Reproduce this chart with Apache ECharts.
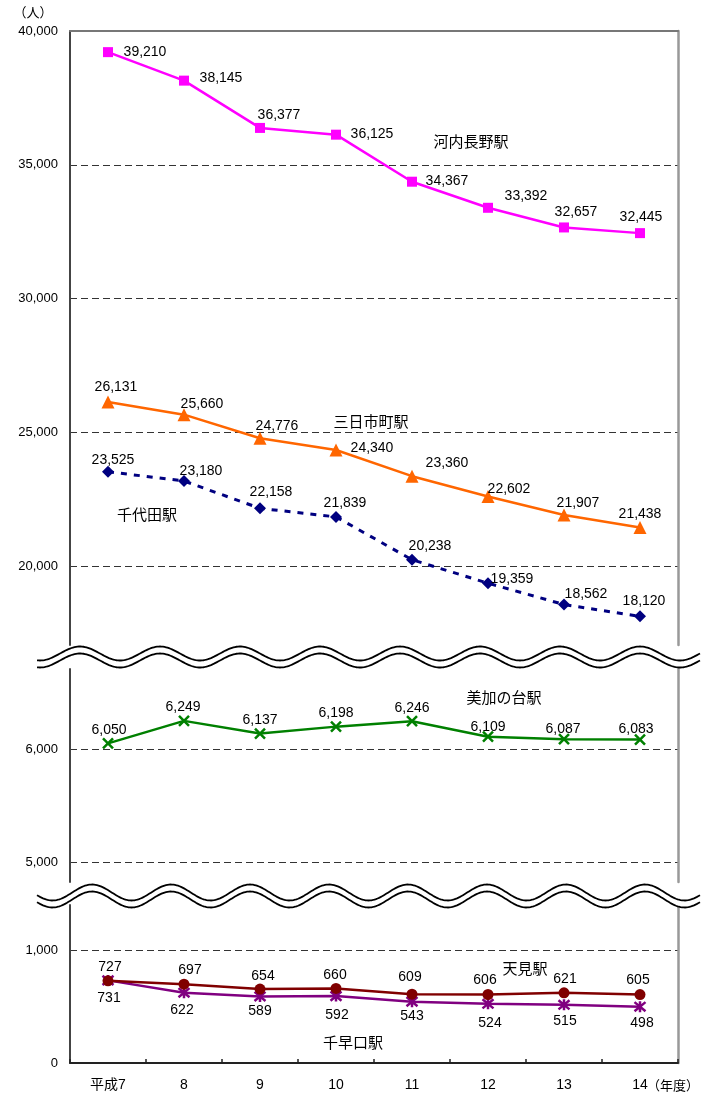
<!DOCTYPE html>
<html>
<head>
<meta charset="utf-8">
<script src="https://cdn.jsdelivr.net/npm/echarts@6/dist/echarts.min.js"></script>
<style>
html,body{margin:0;padding:0;background:#fff;}
#main{width:711px;height:1095px;}
</style>
</head>
<body>
<div id="main"></div>
<script>
// ---------- data ----------
const years = ['平成7', '8', '9', '10', '11', '12', '13', '14'];
const yearUnit = '（年度）';
const unitLabel = '（人）';

const kawachinagano = [39210, 38145, 36377, 36125, 34367, 33392, 32657, 32445];
const mikkaichicho  = [26131, 25660, 24776, 24340, 23360, 22602, 21907, 21438];
const chiyoda       = [23525, 23180, 22158, 21839, 20238, 19359, 18562, 18120];
const mikanodai     = [6050, 6249, 6137, 6198, 6246, 6109, 6087, 6083];
const amami         = [727, 697, 654, 660, 609, 606, 621, 605];
const chihayaguchi  = [731, 622, 589, 592, 543, 524, 515, 498];

const ticksUpper  = [20000, 25000, 30000, 35000, 40000];
const ticksMiddle = [5000, 6000];
const ticksLower  = [0, 1000];

// ---------- styles / layout (not data) ----------
const NUM_FONT = "'Liberation Sans', Arial, 'Noto Sans CJK JP', sans-serif";
const JP_FONT = "'Noto Sans CJK JP', 'Liberation Sans', sans-serif";

const offKawachi = [[37,0],[37,-2],[19,-13],[36,-1],[35,-1],[38,-12],[12,-15],[1,-16]];
const offMikka   = [[8,-15],[18,-11],[17,-12],[36,-2],[35,-13],[21,-7],[14,-12],[0,-13]];
const offChiyoda = [[5,-12],[17,-10],[11,-16],[9,-14],[18,-14],[24,-4],[22,-10],[4,-15]];
const offMika    = [[1,-13],[-1,-14],[0,-13],[0,-13],[0,-13],[0,-10],[-1,-10],[-4,-10]];
const offAmami   = [[2,-14],[6,-14],[3,-13],[-1,-13],[-2,-17],[-3,-14],[1,-14],[-2,-14]];
const offChihaya = [[1,18],[-2,17],[0,15],[1,19],[0,15],[2,19],[1,16],[2,16]];

const fmt = v => v.toLocaleString('en-US');

function items(values, offs) {
  return values.map((v, i) => ({ value: v, label: { offset: offs[i] } }));
}

function lineSeries(name, values, offs, color, symbol, size, xi, yi, extra) {
  return Object.assign({
    name: name,
    type: 'line',
    xAxisIndex: xi,
    yAxisIndex: yi,
    data: items(values, offs),
    symbol: symbol,
    symbolSize: size,
    showAllSymbol: true,
    lineStyle: { color: color, width: 2.5 },
    itemStyle: { color: color, borderColor: color, borderWidth: 0 },
    label: {
      show: true,
      position: 'inside',
      color: '#000',
      fontSize: 14,
      fontFamily: NUM_FONT,
      textBorderWidth: 0,
      formatter: p => fmt(p.value)
    },
    emphasis: { disabled: true },
    animation: false,
    z: 3
  }, extra || {});
}

const GRIDS = [
  { left: 70, right: 33, top: 31, height: 614 },
  { left: 70, right: 33, top: 669, height: 213 },
  { left: 70, right: 33, top: 905, height: 158 }
];
const RANGES = [[17050, 40000], [4823, 6708], [0, 1398]];
const TICKS = [ticksUpper, ticksMiddle, ticksLower];
// grid lines: all ticks except those lying on the frame
const GRIDLINES = [ticksUpper.filter(v => v < RANGES[0][1]), ticksMiddle, ticksLower.filter(v => v > 0)];

const yAxes = [];
for (let g = 0; g < 3; g++) {
  yAxes.push({
    type: 'value', gridIndex: g, position: 'left',
    min: RANGES[g][0], max: RANGES[g][1],
    axisLine: { show: true, onZero: false, lineStyle: { color: '#444', width: 2 } },
    axisTick: { show: false, customValues: GRIDLINES[g] },
    axisLabel: {
      show: true, customValues: TICKS[g], margin: 12,
      color: '#000', fontSize: 13, fontFamily: NUM_FONT,
      formatter: v => fmt(v)
    },
    splitLine: { show: true, lineStyle: { color: '#333', width: 1, type: [7, 4] } }
  });
  yAxes.push({
    type: 'value', gridIndex: g, position: 'right', min: 0, max: 1,
    axisLine: { show: true, onZero: false, lineStyle: { color: '#999', width: 2.5 } },
    axisTick: { show: false }, axisLabel: { show: false }, splitLine: { show: false }
  });
}

const xAxes = [
  {
    type: 'category', gridIndex: 0, data: years, position: 'top', boundaryGap: true,
    axisLine: { show: true, onZero: false, lineStyle: { color: '#777', width: 2 } },
    axisTick: { show: false }, axisLabel: { show: false }, splitLine: { show: false }
  },
  {
    type: 'category', gridIndex: 1, data: years, show: false, boundaryGap: true,
    axisLine: { onZero: false }
  },
  {
    type: 'category', gridIndex: 2, data: years, position: 'bottom', boundaryGap: true,
    axisLine: { show: true, onZero: false, lineStyle: { color: '#222', width: 2 } },
    axisTick: { show: true, inside: true, length: 4, lineStyle: { color: '#222', width: 1.5 } },
    axisLabel: { show: true, margin: 15, color: '#000', fontSize: 14, fontFamily: NUM_FONT }
  }
];

const xSym = 'path://M0,0L10,10M10,0L0,10';
const starSym = 'path://M1,1L11,11M11,1L1,11M6,0L6,12';

const series = [
  lineSeries('河内長野駅', kawachinagano, offKawachi, '#FF00FF', 'rect', 10, 0, 0),
  lineSeries('三日市町駅', mikkaichicho, offMikka, '#FF6600', 'triangle', 13, 0, 0),
  lineSeries('千代田駅', chiyoda, offChiyoda, '#000080', 'diamond', 12, 0, 0,
    { lineStyle: { color: '#000080', width: 3, type: [6, 7] } }),
  lineSeries('美加の台駅', mikanodai, offMika, '#008000', xSym, 10, 1, 2,
    { itemStyle: { color: '#008000', borderColor: '#008000', borderWidth: 2.5 } }),
  lineSeries('千早口駅', chihayaguchi, offChihaya, '#800080', starSym, 11, 2, 4,
    { itemStyle: { color: '#800080', borderColor: '#800080', borderWidth: 2.5 } }),
  lineSeries('天見駅', amami, offAmami, '#800000', 'circle', 11, 2, 4)
];

// ---------- decorations ----------
function wave(yc, amp, peakX, period, x0, x1, dy) {
  const pts = [];
  for (let x = x0; x <= x1 + 0.01; x += 1.5) {
    pts.push([x, yc + dy - amp * Math.cos(2 * Math.PI * (x - peakX) / period)]);
  }
  return pts;
}
function breakMark(yc, amp, peakX, period) {
  const x0 = 37, x1 = 701;
  return [
    { type: 'polyline', z: 50, shape: { points: wave(yc, amp, peakX, period, x0, x1, 0) },
      style: { stroke: '#fff', lineWidth: 7, fill: null } },
    { type: 'polyline', z: 51, shape: { points: wave(yc, amp, peakX, period, x0, x1, -3.5) },
      style: { stroke: '#000', lineWidth: 1.8, fill: null } },
    { type: 'polyline', z: 51, shape: { points: wave(yc, amp, peakX, period, x0, x1, 3.5) },
      style: { stroke: '#000', lineWidth: 1.8, fill: null } }
  ];
}

function nameText(t, x, y) {
  return { type: 'text', x: x, y: y, z: 60,
    style: { text: t, fill: '#000', font: '15px ' + JP_FONT, textAlign: 'center', textVerticalAlign: 'middle' } };
}

const graphics = []
  .concat(breakMark(657, 7, 80, 80))
  .concat(breakMark(896, 8, 92, 79))
  .concat([
    nameText('河内長野駅', 471, 141),
    nameText('三日市町駅', 371, 421),
    nameText('千代田駅', 147, 514),
    nameText('美加の台駅', 504, 697),
    nameText('天見駅', 525, 968),
    nameText('千早口駅', 353, 1042),
    { type: 'text', x: 33, y: 12, z: 60,
      style: { text: unitLabel, fill: '#000', font: '13px ' + JP_FONT, textAlign: 'center', textVerticalAlign: 'middle' } },
    { type: 'text', x: 647, y: 1085, z: 60,
      style: { text: yearUnit, fill: '#000', font: '13px ' + JP_FONT, textAlign: 'left', textVerticalAlign: 'middle' } }
  ]);

const chart = echarts.init(document.getElementById('main'), null, { renderer: 'canvas' });
chart.setOption({
  backgroundColor: '#fff',
  animation: false,
  grid: GRIDS,
  xAxis: xAxes,
  yAxis: yAxes,
  series: series,
  graphic: graphics
});
</script>
</body>
</html>
